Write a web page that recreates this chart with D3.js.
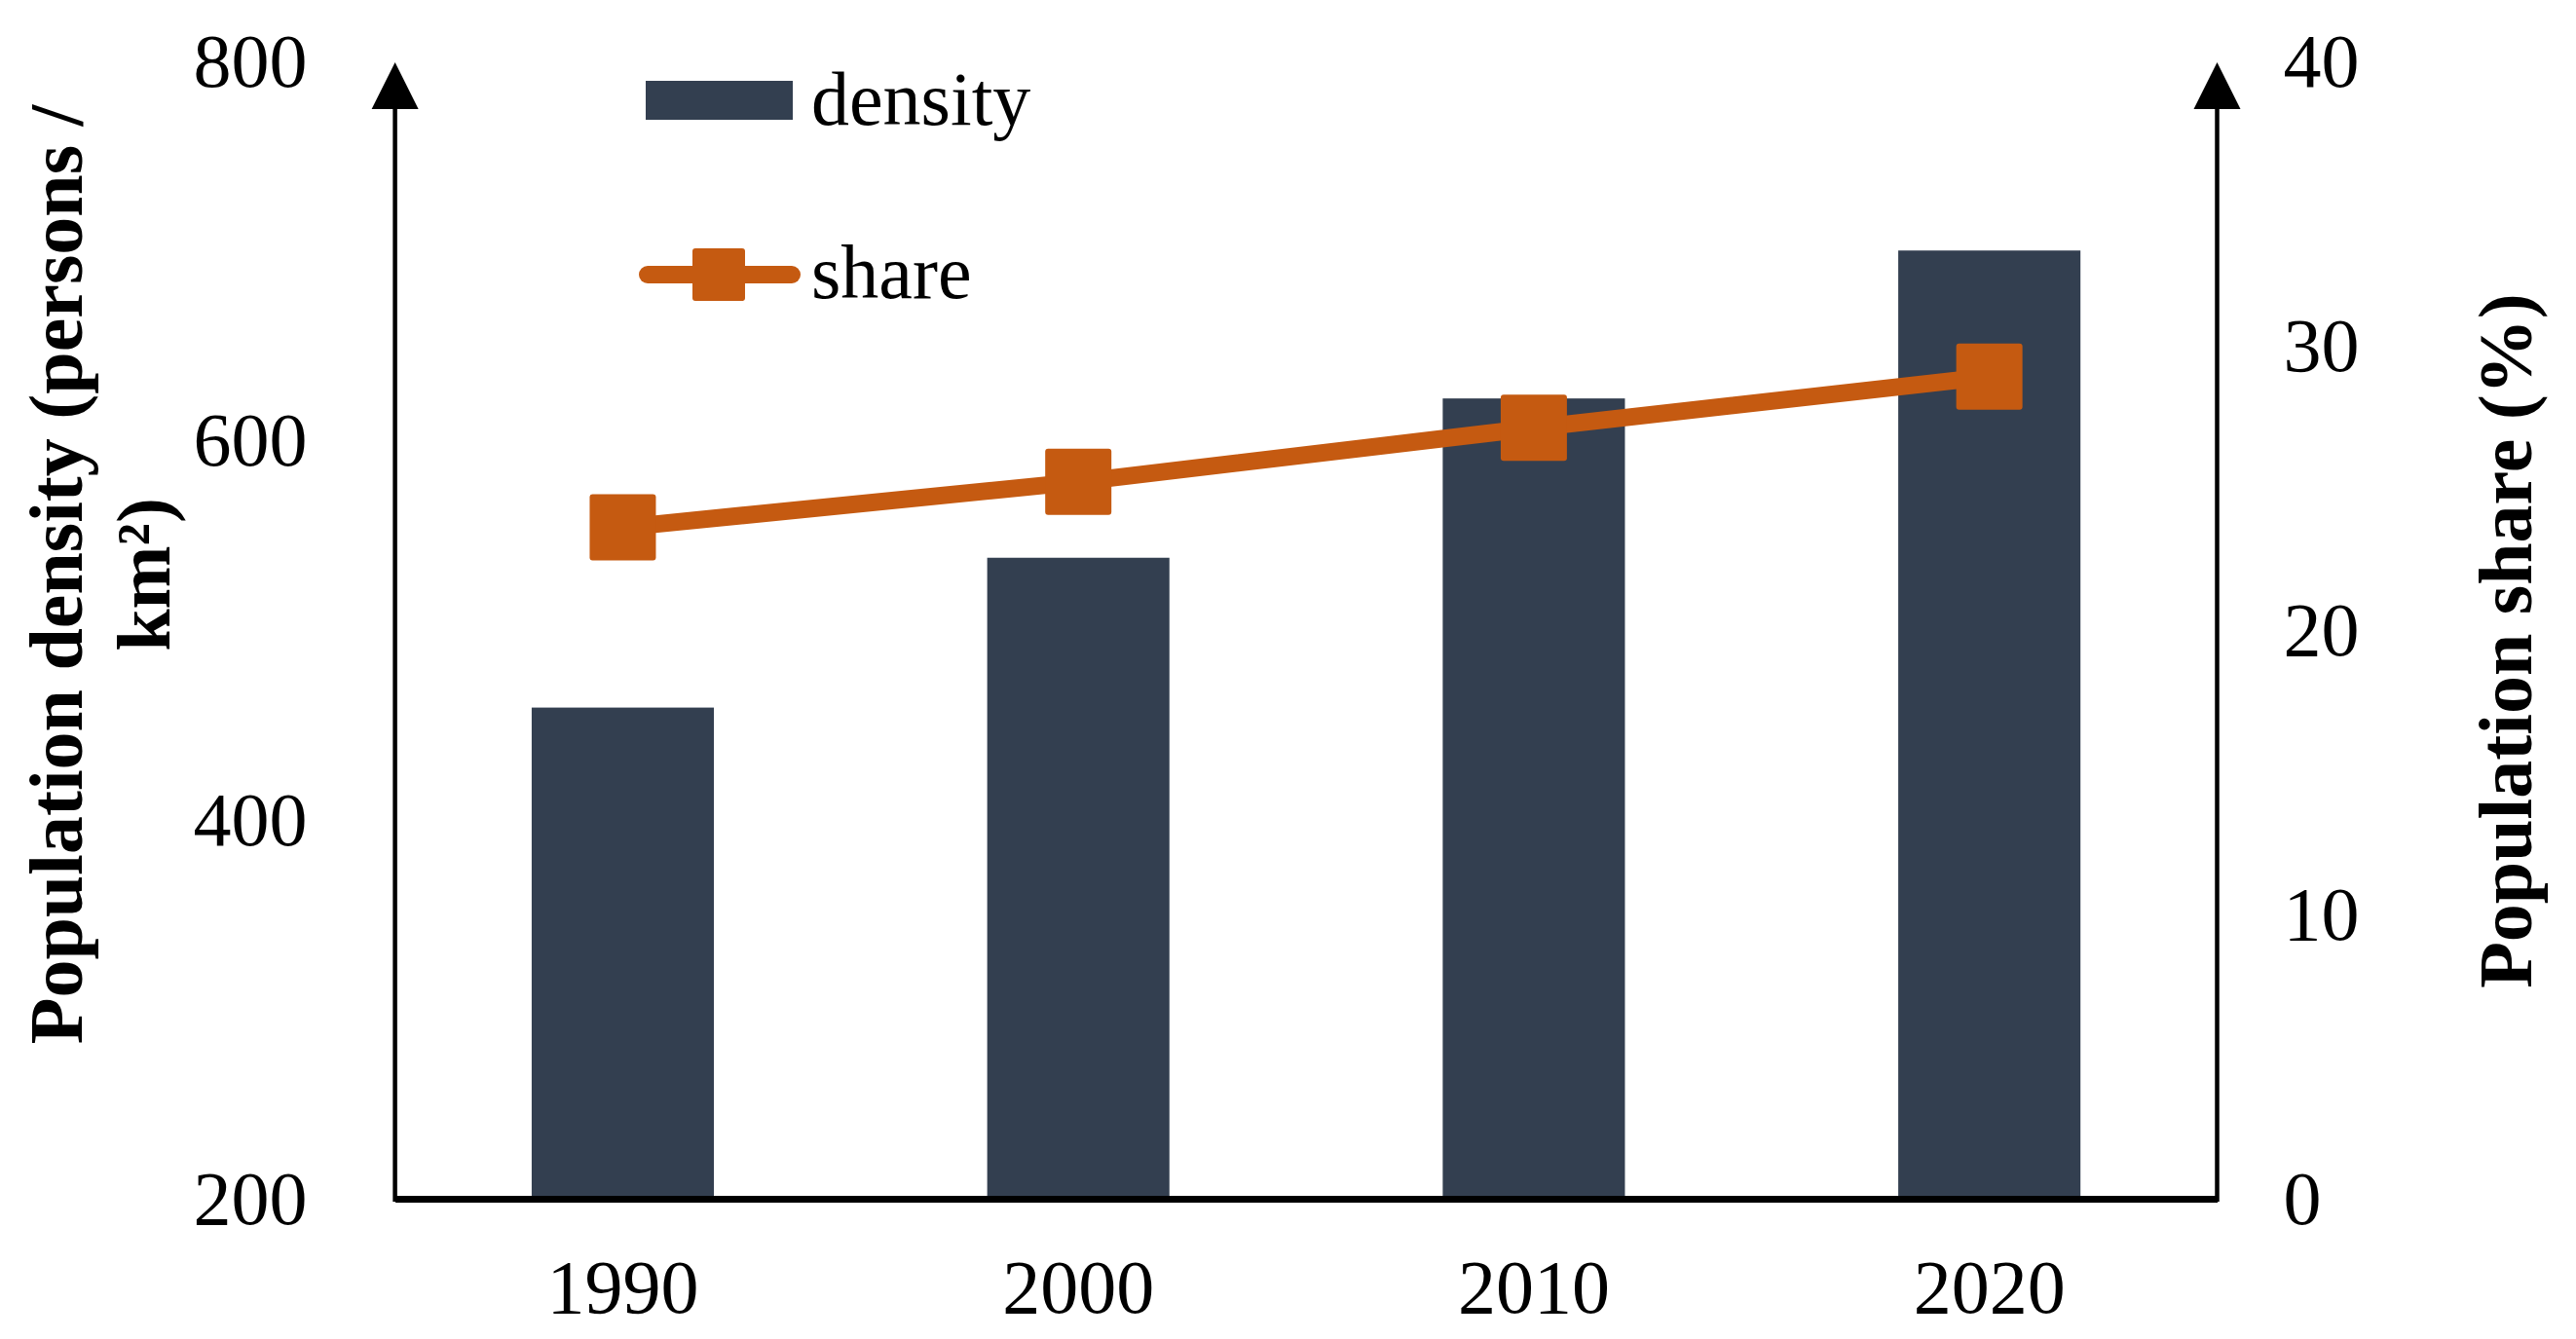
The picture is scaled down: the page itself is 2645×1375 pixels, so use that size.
<!DOCTYPE html>
<html>
<head>
<meta charset="utf-8">
<script src="https://cdn.jsdelivr.net/npm/d3@7"></script>
<style>
  body { margin: 0; background: #fff; }
  text { font-family: "Times New Roman", "Liberation Serif", serif; fill: #000; }
</style>
</head>
<body>
<div id="chart-area"></div>
<script>
// values
const years = ["1990", "2000", "2010", "2020"]
const density = [459, 538, 622, 700]      // persons / km²
const share = [23.6, 25.2, 27.1, 28.9]    // %
const densityTicks = [200, 400, 600, 800]
const shareTicks = [0, 10, 20, 30, 40]

const WIDTH = 2645
const HEIGHT = 1375
const PLOT = { LEFT: 405.6, RIGHT: 2276.5, TOP: 62.5, BOTTOM: 1231 }
const FONT = 78
const BAR_COLOR = "#333F50"
const LINE_COLOR = "#C55A11"

const svg = d3.select("#chart-area").append("svg")
  .attr("width", WIDTH)
  .attr("height", HEIGHT)

const x = d3.scaleBand()
  .domain(years)
  .range([PLOT.LEFT, PLOT.RIGHT])
  .paddingInner(0.6)
  .paddingOuter(0.3)

const yLeft = d3.scaleLinear()
  .domain([200, 800])
  .range([PLOT.BOTTOM, PLOT.TOP])

const yRight = d3.scaleLinear()
  .domain([0, 40])
  .range([PLOT.BOTTOM, PLOT.TOP])

// bars
svg.append("g").selectAll("rect")
  .data(years)
  .enter().append("rect")
  .attr("x", d => x(d))
  .attr("width", x.bandwidth())
  .attr("y", (d, i) => yLeft(density[i]))
  .attr("height", (d, i) => yLeft(200) - yLeft(density[i]))
  .attr("fill", BAR_COLOR)

// share line
const line = d3.line()
  .x((d, i) => x(years[i]) + x.bandwidth() / 2)
  .y(d => yRight(d))

svg.append("path")
  .datum(share)
  .attr("d", line)
  .attr("fill", "none")
  .attr("stroke", LINE_COLOR)
  .attr("stroke-width", 18)

const MK = 68
svg.append("g").selectAll("rect")
  .data(share)
  .enter().append("rect")
  .attr("x", (d, i) => x(years[i]) + x.bandwidth() / 2 - MK / 2)
  .attr("y", d => yRight(d) - MK / 2)
  .attr("width", MK)
  .attr("height", MK)
  .attr("rx", 3)
  .attr("fill", LINE_COLOR)

// left axis
const leftAxis = svg.append("g")
  .attr("transform", `translate(${PLOT.LEFT}, 0)`)
  .call(d3.axisLeft(yLeft).tickValues(densityTicks).tickSize(0).tickPadding(90))
leftAxis.select(".domain").remove()
leftAxis.selectAll("text")
  .attr("font-size", FONT)
  .attr("font-family", "'Times New Roman', 'Liberation Serif', serif")
  .attr("dy", "0.33em")

// right axis
const rightAxis = svg.append("g")
  .attr("transform", `translate(${PLOT.RIGHT}, 0)`)
  .call(d3.axisRight(yRight).tickValues(shareTicks).tickSize(0).tickPadding(68))
rightAxis.select(".domain").remove()
rightAxis.selectAll("text")
  .attr("font-size", FONT)
  .attr("font-family", "'Times New Roman', 'Liberation Serif', serif")
  .attr("dy", "0.33em")

// bottom axis
const bottomAxis = svg.append("g")
  .attr("transform", `translate(0, ${PLOT.BOTTOM})`)
  .call(d3.axisBottom(x).tickSize(0).tickSizeOuter(0).tickPadding(62))
bottomAxis.select(".domain")
  .attr("stroke", "#000")
  .attr("stroke-width", 7)
bottomAxis.selectAll("text")
  .attr("font-size", FONT)
  .attr("font-family", "'Times New Roman', 'Liberation Serif', serif")

// vertical axis lines with arrow heads
const ARROW = 48
;[PLOT.LEFT, PLOT.RIGHT].forEach(ax => {
  svg.append("line")
    .attr("x1", ax).attr("x2", ax)
    .attr("y1", PLOT.BOTTOM + 3)
    .attr("y2", PLOT.TOP + ARROW)
    .attr("stroke", "#000")
    .attr("stroke-width", 4.5)
  svg.append("path")
    .attr("d", `M${ax},${PLOT.TOP + 1.5} L${ax + ARROW / 2},${PLOT.TOP + ARROW + 1.5} L${ax - ARROW / 2},${PLOT.TOP + ARROW + 1.5} Z`)
    .attr("fill", "#000")
})

// axis titles
svg.append("text")
  .attr("transform", "translate(84, 590) rotate(-90)")
  .attr("text-anchor", "middle")
  .attr("font-size", FONT)
  .attr("font-weight", "bold")
  .text("Population density (persons /")

svg.append("text")
  .attr("transform", "translate(174, 590) rotate(-90)")
  .attr("text-anchor", "middle")
  .attr("font-size", FONT)
  .attr("font-weight", "bold")
  .text("km²)")

svg.append("text")
  .attr("transform", "translate(2599, 658) rotate(-90)")
  .attr("text-anchor", "middle")
  .attr("font-size", FONT)
  .attr("font-weight", "bold")
  .text("Population share (%)")

// legend
const legend = svg.append("g")

legend.append("rect")
  .attr("x", 663).attr("y", 83)
  .attr("width", 151).attr("height", 40)
  .attr("fill", BAR_COLOR)

legend.append("text")
  .attr("x", 833).attr("y", 128)
  .attr("font-size", FONT)
  .text("density")

legend.append("line")
  .attr("x1", 665).attr("x2", 813)
  .attr("y1", 282).attr("y2", 282)
  .attr("stroke", LINE_COLOR)
  .attr("stroke-width", 18)
  .attr("stroke-linecap", "round")

legend.append("rect")
  .attr("x", 738 - 27).attr("y", 282 - 27)
  .attr("width", 54).attr("height", 54)
  .attr("rx", 3)
  .attr("fill", LINE_COLOR)

legend.append("text")
  .attr("x", 833).attr("y", 306)
  .attr("font-size", FONT)
  .text("share")
</script>
</body>
</html>
